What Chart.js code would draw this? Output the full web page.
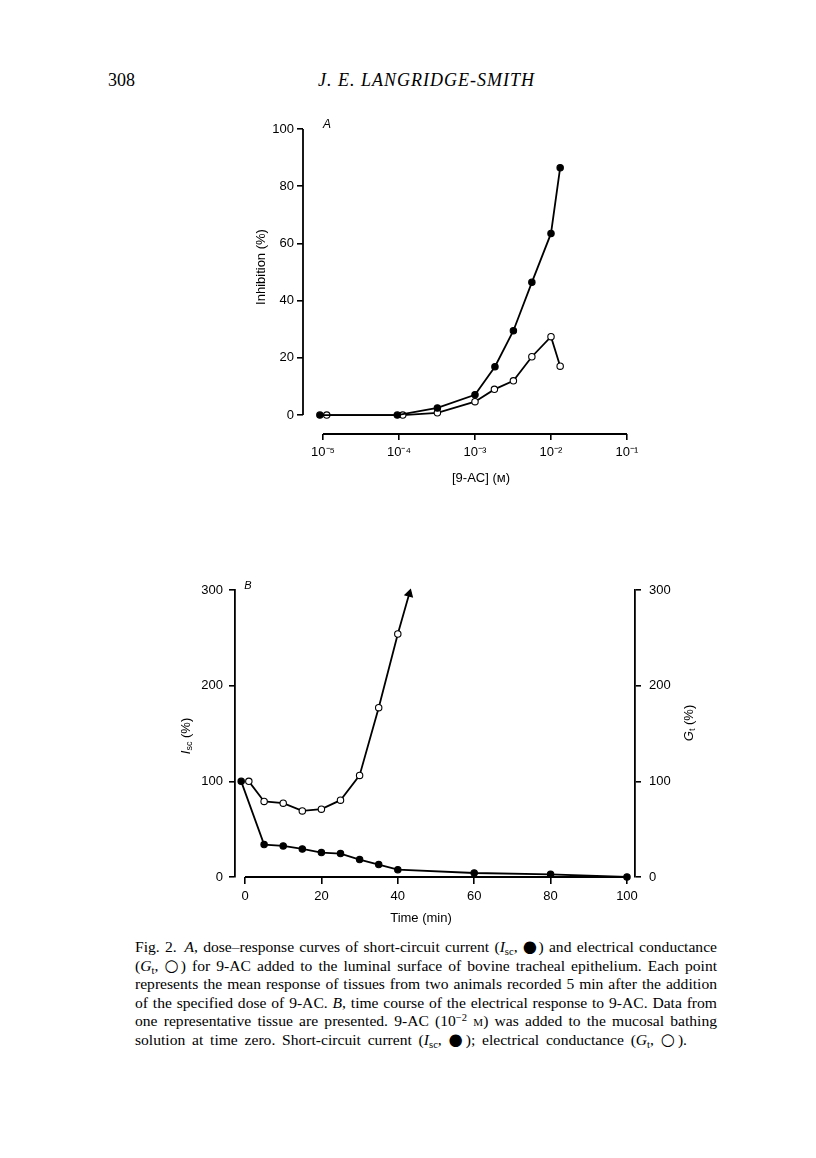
<!DOCTYPE html>
<html>
<head>
<meta charset="utf-8">
<script src="https://cdn.jsdelivr.net/npm/chart.js@4.4.0/dist/chart.umd.min.js"></script>
<style>
  body { margin: 0; background: #fff; width: 816px; height: 1158px; position: relative; overflow: hidden; }
  .hdr { position: absolute; font-family: "Liberation Serif", serif; font-size: 18px; line-height: 18px; color: #000; white-space: nowrap; }
  #cA { position: absolute; left: 230px; top: 100px; }
  #cB { position: absolute; left: 170px; top: 560px; }
  #cap { position: absolute; left: 135px; top: 938px; width: 582px; font-family: "Liberation Serif", serif; font-size: 15.6px; line-height: 18.6px; color: #000; }
  #cap div { text-align: justify; text-align-last: justify; }
  #cap div.last { width: 552px; }
  #cap sub { font-size: 0.68em; vertical-align: -0.25em; line-height: 0; }
  #cap sup { font-size: 0.68em; vertical-align: 0.45em; line-height: 0; }
  .sc { font-variant: small-caps; }
  .dot { font-family: "DejaVu Sans", sans-serif; font-size: 1.05em; line-height: 0; }
</style>
</head>
<body>
<div class="hdr" style="left:108px;top:71px;">308</div>
<div class="hdr" style="left:318px;top:71px;font-style:italic;letter-spacing:1px;">J. E. LANGRIDGE-SMITH</div>

<canvas id="cA" width="430" height="400"></canvas>
<canvas id="cB" width="530" height="370"></canvas>

<div id="cap">
  <div>Fig. 2.&ensp;<i>A</i>, dose–response curves of short-circuit current (<i>I</i><sub>sc</sub>, <span class="dot">●</span>) and electrical conductance</div>
  <div>(<i>G</i><sub>t</sub>, <span class="dot">○</span>) for 9-AC added to the luminal surface of bovine tracheal epithelium. Each point</div>
  <div>represents the mean response of tissues from two animals recorded 5 min after the addition</div>
  <div>of the specified dose of 9-AC. <i>B</i>, time course of the electrical response to 9-AC. Data from</div>
  <div>one representative tissue are presented. 9-AC (10<sup>−2</sup> <span class="sc">m</span>) was added to the mucosal bathing</div>
  <div class="last">solution at time zero. Short-circuit current (<i>I</i><sub>sc</sub>, <span class="dot">●</span>); electrical conductance (<i>G</i><sub>t</sub>, <span class="dot">○</span>).</div>
</div>

<script>
// ---- A: dose-response (inhibition %, vs [9-AC] M) ----
var doseIsc = [0.91e-5, 0.95e-4, 3.2e-4, 1e-3, 1.83e-3, 3.2e-3, 5.6e-3, 1e-2, 1.32e-2];
var inhIsc  = [0, 0, 2.5, 7.1, 16.9, 29.5, 46.4, 63.5, 86.5];
var doseGt  = [1.12e-5, 1.12e-4, 3.2e-4, 1e-3, 1.8e-3, 3.2e-3, 5.6e-3, 1e-2, 1.32e-2];
var inhGt   = [0, 0, 0.8, 4.7, 9.0, 12.0, 20.4, 27.4, 17.1];
var doseTicks = [1e-5, 1e-4, 1e-3, 1e-2, 1e-1];
var doseTickLabels = ['10⁻⁵', '10⁻⁴', '10⁻³', '10⁻²', '10⁻¹'];
var inhTicks = [0, 20, 40, 60, 80, 100];

// ---- B: time course (% of initial) ----
var timeIsc = [-1, 5, 10, 15, 20, 25, 30, 35, 40, 60, 80, 100];
var iscPct  = [100, 33.9, 32.5, 29.3, 25.5, 24.5, 18.2, 13, 7.7, 4.2, 2.8, 0];
var timeGt  = [1, 5, 10, 15, 20, 25, 30, 35, 40, 43];
var gtPct   = [100, 79, 77.2, 69.1, 70.9, 80.3, 106.2, 177, 254, 296]; // last = arrow head
var timeTicks = [0, 20, 40, 60, 80, 100];
var pctTicks = [0, 100, 200, 300];

var INK = '#000';
var tickFont = { family: 'Liberation Sans', size: 13 };

function pts(xs, ys) {
  return xs.map(function (x, i) { return { x: x, y: ys[i] }; });
}

function setTicks(list) {
  return function (s) { s.ticks = list.map(function (v) { return { value: v }; }); };
}

function noPad(w, h) {
  return function (s) {
    if (w !== null) s.width = w;
    if (h !== null) s.height = h;
    s.paddingLeft = 0; s.paddingRight = 0; s.paddingTop = 0; s.paddingBottom = 0;
  };
}

// draw a line of text made of several runs (italic, subscript...) centred on x,y
function drawRuns(ctx, runs, x, y, rot) {
  ctx.save();
  ctx.translate(x, y);
  ctx.rotate(rot || 0);
  ctx.textAlign = 'left';
  ctx.textBaseline = 'middle';
  ctx.fillStyle = INK;
  var w = 0;
  runs.forEach(function (r) { ctx.font = r.font; w += ctx.measureText(r.t).width; });
  var cx = -w / 2;
  runs.forEach(function (r) {
    ctx.font = r.font;
    ctx.fillText(r.t, cx, r.dy || 0);
    cx += ctx.measureText(r.t).width;
  });
  ctx.restore();
}

var F = '13px "Liberation Sans"';
var FI = 'italic 13px "Liberation Sans"';
var FS = '9px "Liberation Sans"';

function line(ctx, x1, y1, x2, y2) {
  ctx.save();
  ctx.strokeStyle = INK;
  ctx.lineWidth = 1.8;
  ctx.beginPath();
  ctx.moveTo(x1, y1);
  ctx.lineTo(x2, y2);
  ctx.stroke();
  ctx.restore();
}

var decoA = {
  id: 'decoA',
  beforeDatasetsDraw: function (chart) {
    var ctx = chart.ctx, a = chart.chartArea, x = chart.scales.x, y = chart.scales.y;
    // y axis only from 0 to 100, x axis only over the labelled decades
    line(ctx, a.left, y.getPixelForValue(0), a.left, y.getPixelForValue(100));
    line(ctx, x.getPixelForValue(doseTicks[0]), a.bottom, x.getPixelForValue(doseTicks[doseTicks.length - 1]), a.bottom);
  },
  afterDraw: function (chart) {
    var ctx = chart.ctx;
    drawRuns(ctx, [{ t: 'A', font: 'italic 12px "Liberation Sans"' }], 97, 25, 0);
    drawRuns(ctx, [{ t: 'Inhibition (%)', font: F }], 31, 167, -Math.PI / 2);
    drawRuns(ctx, [{ t: '[9-AC] (м)', font: F }], 251, 378, 0);
  }
};

var decoB = {
  id: 'decoB',
  beforeDatasetsDraw: function (chart) {
    var ctx = chart.ctx, a = chart.chartArea, x = chart.scales.x;
    line(ctx, x.getPixelForValue(timeTicks[0]), a.bottom, x.getPixelForValue(timeTicks[timeTicks.length - 1]), a.bottom);
  },
  afterDraw: function (chart) {
    var ctx = chart.ctx;
    drawRuns(ctx, [{ t: 'B', font: 'italic 11px "Liberation Sans"' }], 78, 26, 0);
    drawRuns(ctx, [{ t: 'I', font: FI }, { t: 'sc', font: FS, dy: 4 }, { t: ' (%)', font: F }], 16, 176, -Math.PI / 2);
    drawRuns(ctx, [{ t: 'G', font: FI }, { t: 't', font: FS, dy: 4 }, { t: ' (%)', font: F }], 519, 163, -Math.PI / 2);
    drawRuns(ctx, [{ t: 'Time (min)', font: F }], 251, 358, 0);
  }
};

function series(data, filled, extra) {
  var ds = {
    data: data,
    borderColor: INK,
    borderWidth: 1.8,
    pointRadius: 3.2,
    pointBorderWidth: 1.1,
    pointBorderColor: INK,
    pointBackgroundColor: filled ? INK : '#fff',
    tension: 0,
    clip: false
  };
  for (var k in extra) ds[k] = extra[k];
  return ds;
}

function axisGrid(len) {
  return { drawOnChartArea: false, drawTicks: true, tickLength: len, color: INK, lineWidth: 1.6 };
}

new Chart(document.getElementById('cA'), {
  type: 'line',
  data: {
    datasets: [
      series(pts(doseIsc, inhIsc), true, { label: 'Isc' }),
      series(pts(doseGt, inhGt), false, { label: 'Gt' })
    ]
  },
  options: {
    responsive: false,
    animation: false,
    devicePixelRatio: 1,
    layout: { padding: { top: 29, right: 33, left: 0, bottom: 0 } },
    plugins: { legend: { display: false }, tooltip: { enabled: false } },
    scales: {
      x: {
        type: 'logarithmic',
        min: Math.pow(10, -5.263),
        max: 0.1,
        afterBuildTicks: setTicks(doseTicks),
        afterFit: noPad(null, 66),
        grid: axisGrid(6),
        border: { display: false },
        ticks: {
          color: INK, font: tickFont, padding: 5, maxRotation: 0, autoSkip: false,
          callback: function (v, i) { return doseTickLabels[i]; }
        }
      },
      y: {
        min: -6.6,
        max: 100,
        afterBuildTicks: setTicks(inhTicks),
        afterFit: noPad(73, null),
        grid: axisGrid(6),
        border: { display: false },
        ticks: { color: INK, font: tickFont, padding: 3 }
      }
    }
  },
  plugins: [decoA]
});

new Chart(document.getElementById('cB'), {
  type: 'line',
  data: {
    datasets: [
      series(pts(timeIsc, iscPct), true, { label: 'Isc', yAxisID: 'y' }),
      series(pts(timeGt, gtPct), false, {
        label: 'Gt',
        yAxisID: 'y2',
        pointStyle: function (c) { return c.dataIndex === gtPct.length - 1 ? 'triangle' : 'circle'; },
        pointRadius: function (c) { return c.dataIndex === gtPct.length - 1 ? 4.5 : 3.2; },
        pointRotation: function (c) { return c.dataIndex === gtPct.length - 1 ? 16 : 0; },
        pointBackgroundColor: function (c) { return c.dataIndex === gtPct.length - 1 ? INK : '#fff'; }
      })
    ]
  },
  options: {
    responsive: false,
    animation: false,
    devicePixelRatio: 1,
    layout: { padding: { top: 30, right: 0, left: 0, bottom: 0 } },
    plugins: { legend: { display: false }, tooltip: { enabled: false } },
    scales: {
      x: {
        type: 'linear',
        min: -2.62,
        max: 102.1,
        afterBuildTicks: setTicks(timeTicks),
        afterFit: noPad(null, 53),
        grid: axisGrid(7),
        border: { display: false },
        ticks: { color: INK, font: tickFont, padding: 5, maxRotation: 0, autoSkip: false }
      },
      y: {
        position: 'left',
        min: 0,
        max: 300,
        afterBuildTicks: setTicks(pctTicks),
        afterFit: noPad(65, null),
        grid: axisGrid(6),
        border: { display: true, color: INK, width: 1.8 },
        ticks: { color: INK, font: tickFont, padding: 6 }
      },
      y2: {
        position: 'right',
        min: 0,
        max: 300,
        afterBuildTicks: setTicks(pctTicks),
        afterFit: noPad(65, null),
        grid: axisGrid(6),
        border: { display: true, color: INK, width: 1.8 },
        ticks: { color: INK, font: tickFont, padding: 8 }
      }
    }
  },
  plugins: [decoB]
});
</script>
</body>
</html>
